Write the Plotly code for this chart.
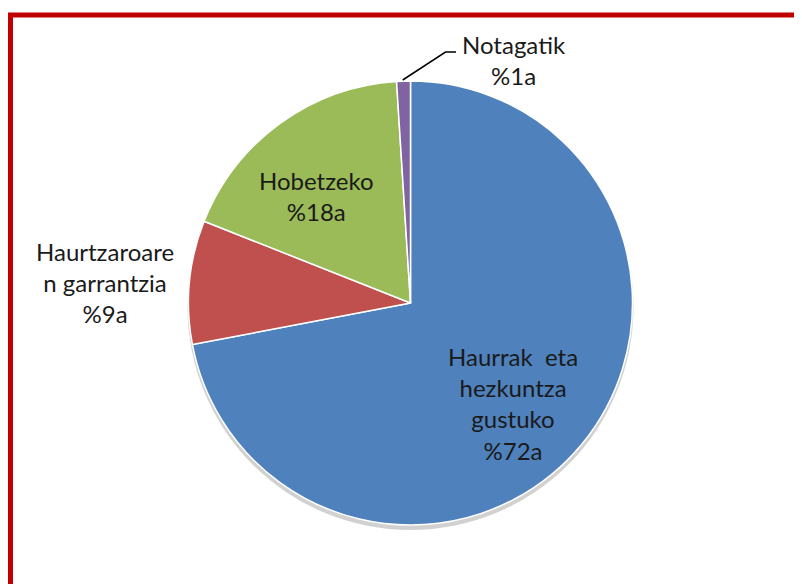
import plotly.graph_objects as go

labels = ["Haurrak  eta hezkuntza gustuko", "Haurtzaroaren garrantzia", "Hobetzeko", "Notagatik"]
values = [72, 9, 18, 1]
colors = ["#4F81BD", "#C0504D", "#9BBB59", "#8064A2"]
label_texts = [
    "Haurrak  eta<br>hezkuntza<br>gustuko<br>%72a",
    "Haurtzaroare<br>n garrantzia<br>%9a",
    "Hobetzeko<br>%18a",
    "Notagatik<br>%1a",
]

W, H = 802, 584
OFF = 8  # page body margin
cx, cy, R = 410.5, 303, 222

def px(x):
    return (x - OFF) / W

def py(y):
    return (H - (y - OFF)) / H

fig = go.Figure()
fig.add_trace(go.Pie(
    labels=labels, values=values, sort=False, direction="clockwise", rotation=0,
    marker=dict(colors=colors, line=dict(color="white", width=1.5)),
    textinfo="none", hoverinfo="label+percent", showlegend=False,
    domain=dict(x=[px(cx - R), px(cx + R)], y=[py(cy + R), py(cy - R)]),
))

font = dict(family="Lato, Open Sans, sans-serif", size=24, color="#1a1a1a")
label_pos = [(513, 403), (105, 282), (316, 196), (514, 60)]
for t, (x, y) in zip(label_texts, label_pos):
    fig.add_annotation(text=t, x=px(x), y=py(y), xref="paper", yref="paper",
                       showarrow=False, font=font, align="center",
                       xanchor="center", yanchor="middle")

shapes = [
    # shadow
    dict(type="circle", xref="paper", yref="paper", layer="below",
         x0=px(cx - R - 1), x1=px(cx + R + 1), y0=py(cy + R + 5), y1=py(cy - R + 3),
         fillcolor="rgba(0,0,0,0.18)", line=dict(width=0)),
    # leader line
    dict(type="path", xref="paper", yref="paper",
         path=f"M {px(402.7)},{py(80)} L {px(445.5)},{py(52)} L {px(456)},{py(52)}",
         line=dict(color="black", width=1.5)),
    # red frame
    dict(type="rect", xref="paper", yref="paper",
         x0=px(10.5), x1=1.1, y0=-0.1, y1=py(15),
         line=dict(color="#C00000", width=5)),
]
fig.update_layout(
    width=W, height=H, margin=dict(l=0, r=0, t=0, b=0),
    paper_bgcolor="white", plot_bgcolor="white", shapes=shapes,
)
fig.write_html("out.html")
